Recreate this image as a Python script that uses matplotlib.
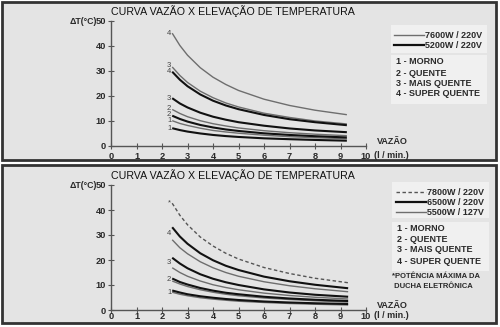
import matplotlib
matplotlib.use("Agg")
import matplotlib.pyplot as plt
from matplotlib.patches import Rectangle
from matplotlib.lines import Line2D

plt.rcParams['font.family'] = ['Liberation Sans', 'DejaVu Sans']

W, H = 500, 327

# ---------------- data ----------------
title = "CURVA VAZÃO X ELEVAÇÃO DE TEMPERATURA"
x_ticks = [0, 1, 2, 3, 4, 5, 6, 7, 8, 9, 10]
y_ticks = [0, 10, 20, 30, 40, 50]

# top chart (7600W / 5200W)
x_top = [2.4, 2.7, 3.0, 3.5, 4.0, 4.5, 5.0, 6.0, 7.0, 8.0, 9.25]
top_7600_4 = [45.0, 40.1, 36.2, 31.2, 27.4, 24.5, 22.1, 18.6, 16.1, 14.2, 12.4]
top_7600_3 = [31.5, 28.1, 25.3, 21.8, 19.2, 17.1, 15.5, 13.0, 11.3, 9.9, 8.7]
top_7600_2 = [14.5, 12.9, 11.6, 10.0, 8.8, 7.9, 7.1, 6.0, 5.2, 4.6, 4.0]
top_7600_1 = [10.0, 8.9, 8.1, 7.0, 6.1, 5.5, 5.0, 4.2, 3.6, 3.2, 2.8]
top_5200_4 = [29.6, 26.4, 23.8, 20.5, 18.0, 16.1, 14.6, 12.3, 10.6, 9.4, 8.2]
top_5200_3 = [19.0, 16.9, 15.3, 13.2, 11.6, 10.4, 9.4, 8.0, 6.9, 6.1, 5.4]
top_5200_2 = [12.0, 10.7, 9.65, 8.3, 7.3, 6.5, 5.9, 4.95, 4.3, 3.8, 3.3]
top_5200_1 = [7.0, 6.25, 5.65, 4.9, 4.3, 3.85, 3.5, 2.95, 2.6, 2.3, 2.0]
top_labels = ["4", "3", "4", "3", "2", "2", "1", "1"]
top_label_y = [45.0, 32.0, 29.5, 19.0, 15.0, 12.6, 10.0, 7.0]
top_legend = ["7600W / 220V", "5200W / 220V"]

# bottom chart (7800W / 6500W / 5500W)
x_bot = [2.4, 2.7, 3.0, 3.5, 4.0, 4.5, 5.0, 6.0, 7.0, 8.0, 9.3]
bot_7800 = [42.7, 37.9, 34.1, 29.2, 25.6, 22.7, 20.4, 17.0, 14.6, 12.7, 10.9]
bot_6500_4 = [33.1, 29.4, 26.5, 22.7, 19.9, 17.7, 16.0, 13.35, 11.5, 10.1, 8.7]
bot_6500_3 = [20.9, 18.6, 16.7, 14.3, 12.5, 11.1, 10.0, 8.25, 7.0, 6.1, 5.3]
bot_6500_2 = [12.6, 11.2, 10.2, 8.8, 7.75, 6.9, 6.3, 5.3, 4.6, 4.1, 3.6]
bot_6500_1 = [7.8, 7.0, 6.3, 5.5, 4.9, 4.4, 4.0, 3.4, 3.0, 2.7, 2.4]
bot_5500_4 = [28.1, 24.9, 22.5, 19.3, 16.9, 15.0, 13.5, 11.3, 9.7, 8.5, 7.3]
bot_5500_3 = [16.9, 15.0, 13.5, 11.6, 10.1, 9.0, 8.1, 6.75, 5.8, 5.1, 4.4]
bot_5500_2 = [11.6, 10.4, 9.4, 8.1, 7.1, 6.3, 5.7, 4.8, 4.2, 3.7, 3.2]
bot_5500_1 = [7.1, 6.3, 5.7, 4.9, 4.35, 3.9, 3.5, 3.0, 2.6, 2.3, 2.0]
bot_labels = ["*", "4", "3", "2", "1"]
bot_label_y = [43.0, 30.5, 18.8, 12.3, 7.0]
bot_legend = ["7800W / 220V", "6500W / 220V", "5500W / 127V"]

modes = ["1 - MORNO", "2 - QUENTE", "3 - MAIS QUENTE", "4 - SUPER QUENTE"]
note = ["*POTÊNCIA MÁXIMA DA", " DUCHA ELETRÔNICA"]

# ---------------- styles ----------------
GRAY = '#6e6e6e'
BLACK = '#111111'
TXT = '#2a2a2a'
PANEL = '#e4e4e4'
LEG = '#f0f0f0'


def fx(px):
    return px / W


def fy(py):
    return 1 - py / H


fig = plt.figure(figsize=(W / 100, H / 100), dpi=100)
fig.patch.set_facecolor('white')


def panel(y0, y1):
    fig.patches.append(Rectangle((fx(2), fy(y1)), fx(494), (y1 - y0) / H,
                                 transform=fig.transFigure, facecolor=PANEL,
                                 edgecolor='#333333', lw=2.0, zorder=-2))


def box(x0, y0, x1, y1):
    fig.patches.append(Rectangle((fx(x0), fy(y1)), (x1 - x0) / W, (y1 - y0) / H,
                                 transform=fig.transFigure, facecolor=LEG,
                                 edgecolor='none', zorder=-1))


def make_axes(y0px, xpad):
    # y0px: pixel row of y=0 ; 50 is 125 px above
    ax = fig.add_axes([fx(111), fy(y0px), 255 / W, 125 / H])
    ax.set_facecolor('none')
    ax.set_xlim(0, 10)
    ax.set_ylim(0, 50)
    for s in ['top', 'right']:
        ax.spines[s].set_visible(False)
    for s in ['left', 'bottom']:
        ax.spines[s].set_color('#555555')
        ax.spines[s].set_linewidth(1.0)
    ax.set_xticks(x_ticks)
    ax.set_yticks(y_ticks)
    ax.tick_params(direction='inout', length=4, width=0.8, color='#555555',
                   labelsize=6.7, labelcolor=TXT, pad=1.5)
    ax.tick_params(axis='x', pad=xpad)
    for lab in ax.get_xticklabels() + ax.get_yticklabels():
        lab.set_fontweight('bold')
    return ax


# ---------------- top panel ----------------
panel(2, 160)
ax1 = make_axes(145.7, 2.2)
for ys in [top_7600_4, top_7600_3, top_7600_2, top_7600_1]:
    ax1.plot(x_top, ys, color=GRAY, lw=1.0, solid_capstyle='butt')
for ys in [top_5200_4, top_5200_3, top_5200_2, top_5200_1]:
    ax1.plot(x_top, ys, color=BLACK, lw=1.5, solid_capstyle='butt')
for lab, yv in zip(top_labels, top_label_y):
    ax1.text(2.28, yv, lab, fontsize=5.5, color='#444444', ha='center', va='center')

fig.text(fx(111), fy(11), title, fontsize=7.7, color='#111111', ha='left', va='center')
fig.text(fx(97), fy(21), "ΔT(°C)", fontsize=6.3, color=TXT, ha='right', va='center',
         fontweight='bold')
fig.text(fx(392), fy(142), "VAZÃO", fontsize=6.5, color=TXT, ha='center', va='center',
         fontweight='bold')
fig.text(fx(374), fy(155.5), "(l / min.)", fontsize=6.5, color=TXT, ha='left', va='center',
         fontweight='bold')

box(391, 25, 487, 53)
box(391, 55, 487, 104)
for (yy, lw, col, ls), lab in zip([(35, 1.0, GRAY, '-'), (45, 1.6, BLACK, '-')], top_legend):
    fig.add_artist(Line2D([fx(394), fx(424)], [fy(yy), fy(yy)], transform=fig.transFigure,
                          color=col, lw=lw, ls=ls))
    fig.text(fx(425), fy(yy), lab, fontsize=6.5, color=TXT, ha='left', va='center',
             fontweight='bold')
for yy, lab in zip([62, 73, 83.5, 94], modes):
    fig.text(fx(395.5), fy(yy), lab, fontsize=6.5, color=TXT, ha='left', va='center',
             fontweight='bold')

# ---------------- bottom panel ----------------
panel(165, 323)
ax2 = make_axes(310, -0.3)
ax2.plot(x_bot, bot_7800, color='#555555', lw=1.0, ls=(0, (2.5, 1.8)))
for ys in [bot_5500_4, bot_5500_3, bot_5500_2, bot_5500_1]:
    ax2.plot(x_bot, ys, color=GRAY, lw=1.0, solid_capstyle='butt')
for ys in [bot_6500_4, bot_6500_3, bot_6500_2, bot_6500_1]:
    ax2.plot(x_bot, ys, color=BLACK, lw=1.5, solid_capstyle='butt')
for lab, yv in zip(bot_labels, bot_label_y):
    ax2.text(2.28, yv, lab, fontsize=5.5, color='#444444', ha='center', va='center')

fig.text(fx(111), fy(175), title, fontsize=7.7, color='#111111', ha='left', va='center')
fig.text(fx(97), fy(186), "ΔT(°C)", fontsize=6.3, color=TXT, ha='right', va='center',
         fontweight='bold')
fig.text(fx(392), fy(305.5), "VAZÃO", fontsize=6.5, color=TXT, ha='center', va='center',
         fontweight='bold')
fig.text(fx(374), fy(315.7), "(l / min.)", fontsize=6.5, color=TXT, ha='left', va='center',
         fontweight='bold')

box(392, 182, 489, 218)
box(392, 222, 489, 271)
leg_styles = [(192.3, 1.0, '#555555', (0, (2.5, 1.8))), (202.3, 1.6, BLACK, '-'),
              (212.3, 1.0, GRAY, '-')]
for (yy, lw, col, ls), lab in zip(leg_styles, bot_legend):
    fig.add_artist(Line2D([fx(396), fx(426)], [fy(yy), fy(yy)], transform=fig.transFigure,
                          color=col, lw=lw, ls=ls))
    fig.text(fx(427), fy(yy), lab, fontsize=6.5, color=TXT, ha='left', va='center',
             fontweight='bold')
for yy, lab in zip([228.5, 240, 250, 262], modes):
    fig.text(fx(397), fy(yy), lab, fontsize=6.5, color=TXT, ha='left', va='center',
             fontweight='bold')
for yy, lab in zip([277, 286.5], note):
    fig.text(fx(392), fy(yy), lab, fontsize=5.5, color=TXT, ha='left', va='center',
             fontweight='bold')

fig.savefig("out.png", dpi=100, facecolor='white')
